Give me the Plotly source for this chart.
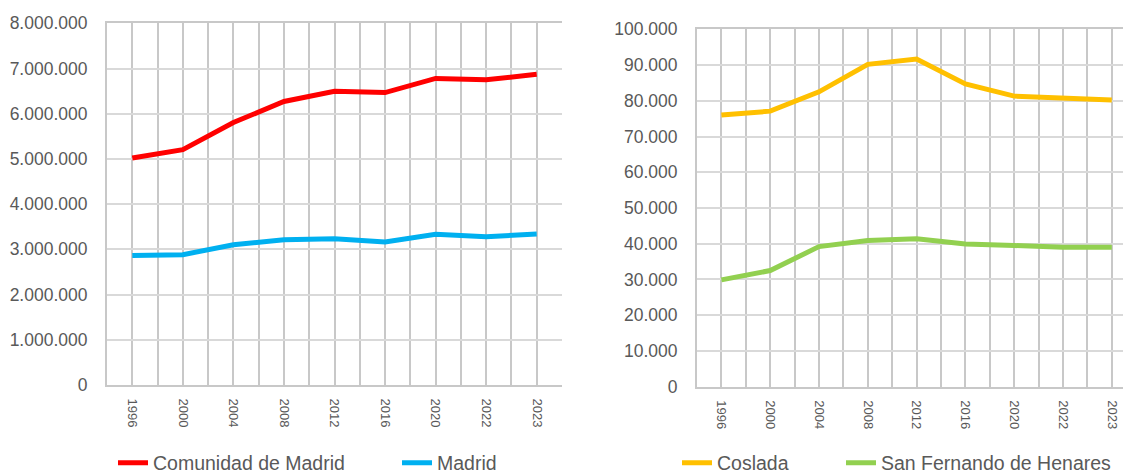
import plotly.graph_objects as go

# DATA
years = ['1996', '2000', '2004', '2008', '2012', '2016', '2020', '2022', '2023']
comunidad_madrid = [5022289, 5205408, 5804829, 6271638, 6498560, 6466996, 6779888, 6751251, 6871903]
madrid = [2866850, 2882860, 3099834, 3213271, 3233527, 3165541, 3334730, 3280782, 3339931]
coslada = [76000, 77100, 82500, 90200, 91700, 84700, 81300, 80700, 80200]
san_fernando = [29900, 32500, 39200, 40900, 41400, 39900, 39500, 39000, 39000]

W, H = 1123, 474
FONT = 'Liberation Sans, Arial'
TXT = '#595959'
xpos = list(range(len(years)))


def xd(a, b):
    return [a / W, min(1, b / W)]


def yd(top, bottom):
    return [1 - bottom / H, 1 - top / H]


fig = go.Figure()
fig.add_trace(go.Scatter(x=xpos, y=comunidad_madrid, mode='lines', name='Comunidad de Madrid',
                         line=dict(color='#FF0000', width=5), xaxis='x', yaxis='y', legend='legend'))
fig.add_trace(go.Scatter(x=xpos, y=madrid, mode='lines', name='Madrid',
                         line=dict(color='#00B0F0', width=5), xaxis='x', yaxis='y', legend='legend2'))
fig.add_trace(go.Scatter(x=xpos, y=coslada, mode='lines', name='Coslada',
                         line=dict(color='#FFC000', width=5), xaxis='x2', yaxis='y2', legend='legend3'))
fig.add_trace(go.Scatter(x=xpos, y=san_fernando, mode='lines', name='San Fernando de Henares',
                         line=dict(color='#92D050', width=5), xaxis='x2', yaxis='y2', legend='legend4'))

xcommon = dict(tickmode='array', tickvals=xpos, ticktext=years, tickangle=90,
               showgrid=True, gridcolor='#c8c8c8', gridwidth=2,
               minor=dict(tickmode='array', tickvals=[i + 0.5 for i in range(-1, len(years))],
                          showgrid=True, gridcolor='#c8c8c8', gridwidth=2),
               showline=True, linecolor='#c8c8c8', linewidth=2, mirror=True,
               zeroline=False, ticks='', ticklabelstandoff=9, automargin=False,
               ticklabeloverflow='allow',
               tickfont=dict(family=FONT, size=13, color=TXT), fixedrange=True)

ycommon = dict(showgrid=True, gridcolor='#d9d9d9', gridwidth=1.5,
               showline=True, linecolor='#c8c8c8', linewidth=2,
               zeroline=False, ticks='', ticklabelstandoff=14, automargin=False,
               tickformat=',d', tickfont=dict(family=FONT, size=17.5, color=TXT), fixedrange=True)

legcommon = dict(orientation='h', y=1 - 463 / H, xanchor='left', yanchor='middle',
                 font=dict(family=FONT, size=19.5, color=TXT), bgcolor='rgba(0,0,0,0)')

fig.update_layout(
    width=W, height=H,
    margin=dict(l=0, r=0, t=0, b=0, autoexpand=False),
    plot_bgcolor='white', paper_bgcolor='white',
    separators=',.',
    showlegend=True,
    xaxis=dict(domain=xd(107, 562), range=[-0.5, 8.5], anchor='y', **xcommon),
    yaxis=dict(domain=yd(23.3, 385), range=[0, 8000000], dtick=1000000, anchor='x', **ycommon),
    # right chart is cropped at the window edge in the reference
    xaxis2=dict(domain=xd(697, W), range=[-0.5, 8.23], anchor='y2', **xcommon),
    yaxis2=dict(domain=yd(29.3, 386.7), range=[0, 100000], dtick=10000, anchor='x2', **ycommon),
    legend=dict(x=113 / W, **legcommon),
    legend2=dict(x=397 / W, **legcommon),
    legend3=dict(x=677 / W, **legcommon),
    legend4=dict(x=841 / W, **legcommon),
)

# drop the default 8px page margin so the figure fills the window
fig.write_html("out.html", config={'displayModeBar': False},
               post_script="document.body.style.margin='0';")
